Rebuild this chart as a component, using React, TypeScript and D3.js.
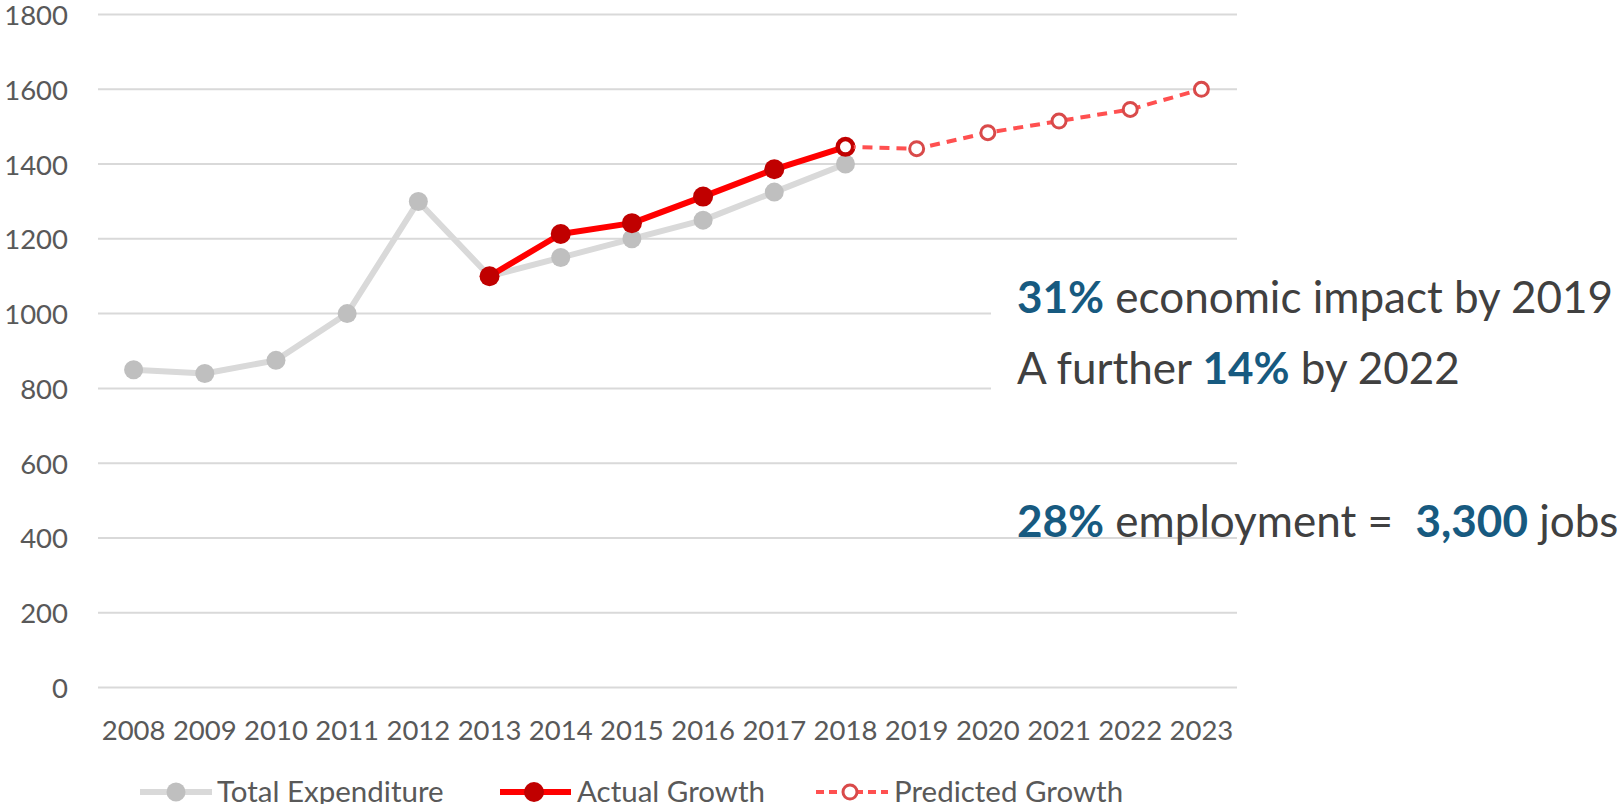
import React from "react";
import * as d3 from "d3";

const years = ["2008","2009","2010","2011","2012","2013","2014","2015","2016","2017","2018","2019","2020","2021","2022","2023"];
const totalYears = ["2008","2009","2010","2011","2012","2013","2014","2015","2016","2017","2018"];
const totalValues = [850, 840, 875, 1000, 1300, 1100, 1150, 1200, 1250, 1325, 1400];
const actualYears = ["2013","2014","2015","2016","2017","2018"];
const actualValues = [1100, 1213, 1242, 1313, 1386, 1446];
const predictedYears = ["2018","2019","2020","2021","2022","2023"];
const predictedValues = [1446, 1441, 1484, 1515, 1546, 1600];
const yTicks = [0, 200, 400, 600, 800, 1000, 1200, 1400, 1600, 1800];
const legendItems = ["Total Expenditure", "Actual Growth", "Predicted Growth"];

const FONT = "Lato, 'Open Sans', sans-serif";

export default function App() {
  const W = 1619, H = 804;
  const x = d3.scaleBand().domain(years).range([98, 1237]);
  const cx = (yr: string) => (x(yr) as number) + x.bandwidth() / 2;
  const y = d3.scaleLinear().domain([0, 1800]).range([687.5, 14.5]);
  const line = d3.line<[string, number]>().x(d => cx(d[0])).y(d => y(d[1]));
  const tot = totalYears.map((t, i) => [t, totalValues[i]] as [string, number]);
  const act = actualYears.map((t, i) => [t, actualValues[i]] as [string, number]);
  const pre = predictedYears.map((t, i) => [t, predictedValues[i]] as [string, number]);

  const blue = "#175a80";
  const dark = "#404040";
  const annSize = 44;

  return (
    <svg width={W} height={H} style={{ position: "absolute", left: 0, top: 0, background: "#fff" }} fontFamily={FONT}>
      {yTicks.map(t => (
        <g key={t}>
          <line x1={98} x2={1237} y1={y(t)} y2={y(t)} stroke="#d9d9d9" strokeWidth={2} />
          <text x={68} y={y(t)} dy="0.38em" textAnchor="end" fontSize={27.5} fill="#595959">{t}</text>
        </g>
      ))}
      <rect x={991} y={255} width={628} height={175} fill="#fff" />
      {years.map(t => (
        <text key={t} x={cx(t)} y={740} textAnchor="middle" fontSize={27.5} fill="#595959">{t}</text>
      ))}
      <path d={line(tot) || ""} fill="none" stroke="#d9d9d9" strokeWidth={6} strokeLinejoin="round" />
      {tot.map(d => <circle key={d[0]} cx={cx(d[0])} cy={y(d[1])} r={9.5} fill="#bfbfbf" />)}
      <path d={line(act) || ""} fill="none" stroke="#ff0000" strokeWidth={6} strokeLinejoin="round" />
      {act.map(d => <circle key={d[0]} cx={cx(d[0])} cy={y(d[1])} r={10} fill="#c00000" />)}
      <path d={line(pre) || ""} fill="none" stroke="#ff5050" strokeWidth={4} strokeDasharray="10,7" />
      {pre.map((d, i) => (
        <circle key={d[0]} cx={cx(d[0])} cy={y(d[1])} r={7} fill="#fff" stroke={i === 0 ? "#c00000" : "#d94a4a"} strokeWidth={3} />
      ))}

      <text x={1017} y={313} fontSize={annSize} fill={dark}>
        <tspan fontWeight="bold" fill={blue}>31%</tspan> economic impact by 2019
      </text>
      <text x={1017} y={384} fontSize={annSize} fill={dark}>
        A further <tspan fontWeight="bold" fill={blue}>14%</tspan> by 2022
      </text>
      <text x={1017} y={537} fontSize={annSize} fill={dark} xmlSpace="preserve">
        <tspan fontWeight="bold" fill={blue}>28%</tspan>{" employment =  "}<tspan fontWeight="bold" fill={blue}>3,300</tspan> jobs
      </text>

      {/* legend */}
      <g>
        <line x1={140} x2={212} y1={792} y2={792} stroke="#d9d9d9" strokeWidth={6} />
        <circle cx={176} cy={792} r={9.5} fill="#bfbfbf" />
        <text x={217} y={802} fontSize={29.5} fill="#595959">{legendItems[0]}</text>
        <line x1={500} x2={571} y1={792} y2={792} stroke="#ff0000" strokeWidth={6} />
        <circle cx={534} cy={792} r={10} fill="#c00000" />
        <text x={577} y={802} fontSize={29.5} fill="#595959">{legendItems[1]}</text>
        <line x1={816} x2={888} y1={792} y2={792} stroke="#ff5050" strokeWidth={4} strokeDasharray="8,5" />
        <circle cx={850} cy={792} r={7} fill="#fff" stroke="#d94a4a" strokeWidth={3} />
        <text x={894} y={802} fontSize={29.5} fill="#595959">{legendItems[2]}</text>
      </g>
    </svg>
  );
}
